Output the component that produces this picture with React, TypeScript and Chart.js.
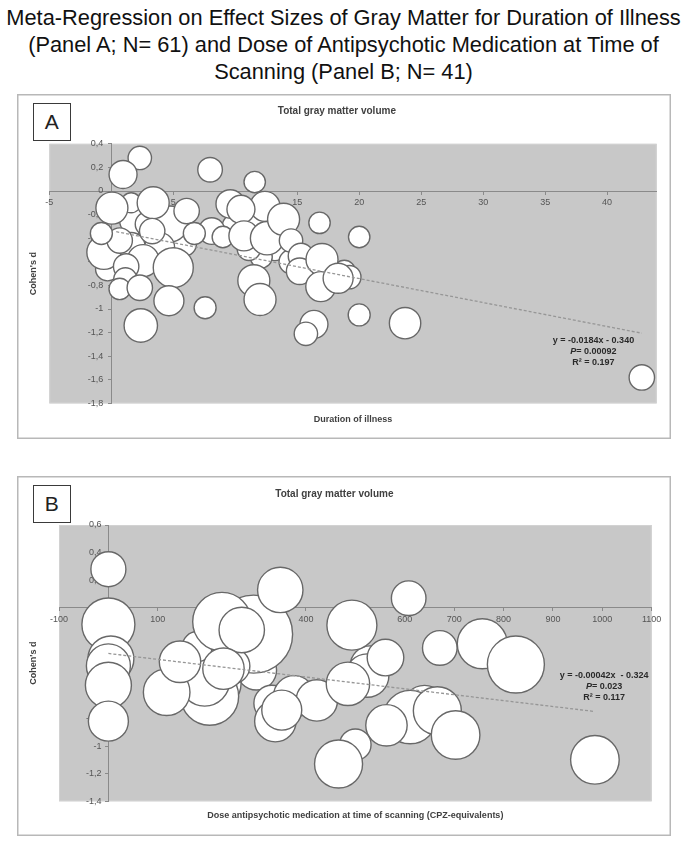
import React, { useEffect, useRef } from "react";
import { Chart, registerables } from "chart.js";

Chart.register(...registerables);

const FONT = '"Liberation Sans", Arial, Helvetica, sans-serif';

const pageTitleLines = [
  "Meta-Regression on Effect Sizes of Gray Matter for Duration of Illness",
  "(Panel A; N= 61) and Dose of Antipsychotic Medication at Time of",
  "Scanning (Panel B; N= 41)",
];

// ---------- Panel A: duration of illness ----------
const illnessYears = [
  1.8, 2.9, 1.6, -0.3, 10.0, 11.6, 13.2, 14.5, 12.1, 16.0, 18.8, 5.9,
  1.6, 4.73, 3.9, 8.1, 12.4, 11.1, 19.2, -0.6,
  2.3, 0.95, 7.97, 11.57, 0.05, 3.38, 6.08, 3.3, 0.68, -0.8, 2.57, 1.2,
  1.14, 0.68, 2.3, 5.0, 4.65, 2.38, 7.57, 6.7, 9.0, 9.6, 10.46, 10.7,
  12.57, 13.9, 14.5, 15.3, 15.2, 17.0, 16.9, 18.3, 16.8, 20.0, 20.0,
  16.35, 15.7, 11.5, 12.0, 23.7, 42.8,
];
const illnessEffect = [
  -0.25, -0.28, -0.47, -0.66, -0.3, -0.26, -0.48, -0.6, -0.56, -0.62, -0.68, -0.45,
  -0.1, -0.28, -0.48, -0.34, -0.13, -0.49, -0.73, -0.52,
  0.28, 0.14, 0.18, 0.076, -0.145, -0.1, -0.17, -0.34, -0.42, -0.36, -0.59, -0.64,
  -0.75, -0.83, -0.82, -0.65, -0.93, -1.14, -0.99, -0.36, -0.39, -0.11, -0.155, -0.38,
  -0.4, -0.24, -0.42, -0.55, -0.68, -0.58, -0.81, -0.74, -0.27, -0.39, -1.05,
  -1.13, -1.21, -0.76, -0.92, -1.12, -1.58,
];
const illnessWeight = [
  14, 12, 14, 12, 13, 13, 13, 12, 11, 13, 11, 12,
  10, 18, 15, 13.3, 15, 11.7, 11.7, 17,
  11.7, 14, 12.3, 10.7, 16, 16, 12.7, 12.7, 12.7, 11, 16, 12.7,
  11.7, 10.7, 12.7, 20, 15, 16.7, 11, 11, 10.7, 14.3, 14, 15,
  16.7, 16, 11.7, 12.7, 13.3, 16, 15, 15, 10.7, 10.7, 11,
  14, 11.7, 16, 16, 15.7, 12.7,
];
const illnessTrendX = [0.4, 42.8];
const illnessTrendY = [-0.345, -1.205];
const illnessXTicks = [-5, 0, 5, 10, 15, 20, 25, 30, 35, 40];
const illnessXTickLabels = ["-5", "0", "5", "10", "15", "20", "25", "30", "35", "40"];
const illnessYTicks = [0.4, 0.2, 0, -0.2, -0.4, -0.6, -0.8, -1, -1.2, -1.4, -1.6, -1.8];
const illnessYTickLabels = ["0,4", "0,2", "0", "-0,2", "-0,4", "-0,6", "-0,8", "-1", "-1,2", "-1,4", "-1,6", "-1,8"];
const illnessRegression = ["y = -0.0184x - 0.340", "P= 0.00092", "R\u00b2 = 0.197"];

// ---------- Panel B: antipsychotic dose ----------
const doseCPZ = [
  300, 530, 640, 220,
  294, 205, 195, 180, 250, 331, 524,
  0, 0, 5, 0, 0, 0, 118, 145, 230, 270, 233, 348,
  338, 376, 422, 351, 493, 561, 485, 608, 671, 757, 611, 563, 666, 703, 500, 466, 825, 985,
];
const doseEffect = [
  -0.45, -0.42, -0.72, -0.55,
  -0.19, -0.64, -0.53, -0.28, -0.42, -0.69, -0.49,
  0.28, -0.12, -0.37, -0.42, -0.56, -0.82, -0.61, -0.39, -0.1, -0.16, -0.44, 0.13,
  -0.82, -0.64, -0.67, -0.74, -0.125, -0.36, -0.55, 0.07, -0.29, -0.26, -0.79, -0.85, -0.745, -0.92, -0.99, -1.13, -0.41, -1.1,
];
const doseWeight = [
  20, 20, 22, 24,
  39, 29, 25, 15, 18, 18, 21.7,
  17.5, 26.5, 23, 22, 23, 20, 23.3, 20.7, 29.3, 22.7, 20.7, 22.7,
  20.7, 20.7, 20.7, 20, 25, 18.3, 21.7, 17.3, 17.3, 25, 26.7, 20.7, 24, 24.3, 15.7, 24, 28.5, 24.3,
];
const doseTrendX = [0, 985];
const doseTrendY = [-0.33, -0.75];
const doseXTicks = [-100, 0, 100, 200, 300, 400, 500, 600, 700, 800, 900, 1000, 1100];
const doseXTickLabels = ["-100", "0", "100", "200", "300", "400", "500", "600", "700", "800", "900", "1000", "1100"];
const doseYTicks = [0.6, 0.4, 0.2, 0, -0.2, -0.4, -0.6, -0.8, -1, -1.2, -1.4];
const doseYTickLabels = ["0,6", "0,4", "0,2", "0", "-0,2", "-0,4", "-0,6", "-0,8", "-1", "-1,2", "-1,4"];
const doseRegression = ["y = -0.00042x  - 0.324", "P= 0.023", "R\u00b2 = 0.117"];

type PanelCfg = {
  left: number; top: number; w: number; h: number;
  letter: string; letterTop: number;
  chartTitle: string; xTitle: string; yTitle: string;
  xs: number[]; ys: number[]; rs: number[];
  trendX: number[]; trendY: number[];
  xMin: number; xMax: number; yMin: number; yMax: number;
  xTicks: number[]; xTickLabels: string[]; yTicks: number[]; yTickLabels: string[];
  yLabelAt: number;
  regression: string[]; regAnchor: { x: number; y: number };
  pad: { right: number; titleTop: number; titleBottom: number; yTitleTop: number; yTitleBottom: number; xTitleTop: number; xTitleBottom: number };
};

const lookup = (vals: number[], labels: string[]) => (v: any) => {
  const i = vals.findIndex((t) => Math.abs(t - Number(v)) < 1e-6);
  return i >= 0 ? labels[i] : "";
};

function buildConfig(c: PanelCfg): any {
  const axisColor = "#8a8a8a";
  const tickColor = "#555555";
  const panelPlugin = {
    id: "panelBg",
    beforeDraw(chart: any) {
      const { ctx, chartArea, width, height } = chart;
      ctx.save();
      ctx.fillStyle = "#ffffff";
      ctx.fillRect(0, 0, width, height);
      ctx.strokeStyle = "#b8b8b8";
      ctx.lineWidth = 1.5;
      ctx.strokeRect(0.75, 0.75, width - 1.5, height - 1.5);
      ctx.fillStyle = "#c8c8c8";
      ctx.fillRect(chartArea.left, chartArea.top, chartArea.right - chartArea.left, chartArea.bottom - chartArea.top);
      ctx.strokeStyle = "#d2d2d2";
      ctx.lineWidth = 1;
      ctx.strokeRect(chartArea.left + 0.5, chartArea.top + 0.5, chartArea.right - chartArea.left - 1, chartArea.bottom - chartArea.top - 1);
      ctx.restore();
    },
  };
  const regPlugin = {
    id: "regText",
    afterDatasetsDraw(chart: any) {
      const { ctx, scales } = chart;
      const px = scales.x.getPixelForValue(c.regAnchor.x);
      const py = scales.y.getPixelForValue(c.regAnchor.y);
      ctx.save();
      ctx.fillStyle = "#2a2a2a";
      ctx.textBaseline = "middle";
      const bold = `bold 9px ${FONT}`;
      const ital = `italic bold 9px ${FONT}`;
      c.regression.forEach((line, i) => {
        const y = py + i * 10.8;
        if (line.startsWith("P")) {
          ctx.font = ital;
          const w1 = ctx.measureText("P").width;
          ctx.font = bold;
          const rest = line.slice(1);
          const w2 = ctx.measureText(rest).width;
          const x0 = px - (w1 + w2) / 2;
          ctx.textAlign = "left";
          ctx.font = ital;
          ctx.fillText("P", x0, y);
          ctx.font = bold;
          ctx.fillText(rest, x0 + w1, y);
        } else {
          ctx.font = bold;
          ctx.textAlign = "center";
          ctx.fillText(line, px, y);
        }
      });
      ctx.restore();
    },
  };

  const bubbleData = c.xs.map((x, i) => ({ x, y: c.ys[i], r: c.rs[i] }));
  const trendData = c.trendX.map((x, i) => ({ x, y: c.trendY[i] }));
  const yTickBuilder = (axis: any) => {
    axis.ticks = c.yTicks.slice().reverse().map((v) => ({ value: v }));
  };

  return {
    type: "bubble",
    data: {
      datasets: [
        {
          type: "line",
          data: trendData,
          xAxisID: "x",
          yAxisID: "y",
          borderColor: "#969696",
          borderWidth: 1.3,
          borderDash: [3, 2],
          pointRadius: 0,
          fill: false,
          tension: 0,
          order: 0,
        },
        {
          type: "bubble",
          data: bubbleData,
          xAxisID: "x",
          yAxisID: "y",
          backgroundColor: "#ffffff",
          borderColor: "#686868",
          borderWidth: 1.4,
          hoverRadius: 0,
          order: 1,
        },
      ],
    },
    options: {
      responsive: false,
      animation: false,
      devicePixelRatio: 1,
      layout: { autoPadding: false, padding: { left: 0, right: c.pad.right, top: 0, bottom: 0 } },
      plugins: {
        legend: { display: false },
        tooltip: { enabled: false },
        title: {
          display: true,
          text: c.chartTitle,
          color: "#404040",
          font: { family: FONT, size: 10, weight: "bold" },
          padding: { top: c.pad.titleTop, bottom: c.pad.titleBottom },
        },
      },
      scales: {
        x: {
          type: "linear",
          axis: "x",
          position: { y: 0 },
          min: c.xMin,
          max: c.xMax,
          afterBuildTicks: (axis: any) => {
            axis.ticks = c.xTicks.map((v) => ({ value: v }));
          },
          ticks: {
            callback: lookup(c.xTicks, c.xTickLabels),
            color: tickColor,
            font: { family: FONT, size: 9 },
            padding: 3,
            maxRotation: 0,
            autoSkip: false,
          },
          grid: { drawOnChartArea: false, drawTicks: true, tickLength: 3, color: axisColor },
          border: { display: true, color: axisColor, width: 1 },
        },
        y: {
          type: "linear",
          axis: "y",
          position: { x: 0 },
          min: c.yMin,
          max: c.yMax,
          afterBuildTicks: yTickBuilder,
          ticks: { display: false },
          grid: { drawOnChartArea: false, drawTicks: true, tickLength: 3, color: axisColor },
          border: { display: true, color: axisColor, width: 1 },
        },
        yl: {
          type: "linear",
          axis: "y",
          position: { x: c.yLabelAt },
          min: c.yMin,
          max: c.yMax,
          afterBuildTicks: yTickBuilder,
          ticks: {
            callback: lookup(c.yTicks, c.yTickLabels),
            color: tickColor,
            font: { family: FONT, size: 9 },
            padding: 0,
            autoSkip: false,
          },
          grid: { display: false, drawTicks: false },
          border: { display: false },
        },
        xt: {
          type: "linear",
          axis: "x",
          position: "bottom",
          min: 0,
          max: 1,
          ticks: { display: false },
          grid: { display: false, drawTicks: false },
          border: { display: false },
          title: {
            display: true,
            text: c.xTitle,
            color: "#404040",
            font: { family: FONT, size: 9, weight: "bold" },
            padding: { top: c.pad.xTitleTop, bottom: c.pad.xTitleBottom },
          },
        },
        yt: {
          type: "linear",
          axis: "y",
          position: "left",
          min: 0,
          max: 1,
          ticks: { display: false },
          grid: { display: false, drawTicks: false },
          border: { display: false },
          title: {
            display: true,
            text: c.yTitle,
            color: "#404040",
            font: { family: FONT, size: 9, weight: "bold" },
            padding: { top: c.pad.yTitleTop, bottom: c.pad.yTitleBottom },
          },
        },
      },
    },
    plugins: [panelPlugin, regPlugin],
  };
}

const panelA: PanelCfg = {
  left: 17, top: 94, w: 654, h: 345,
  letter: "A", letterTop: 8.7,
  chartTitle: "Total gray matter volume",
  xTitle: "Duration of illness",
  yTitle: "Cohen's d",
  xs: illnessYears, ys: illnessEffect, rs: illnessWeight,
  trendX: illnessTrendX, trendY: illnessTrendY,
  xMin: -5, xMax: 44, yMin: -1.8, yMax: 0.4,
  xTicks: illnessXTicks, xTickLabels: illnessXTickLabels,
  yTicks: illnessYTicks, yTickLabels: illnessYTickLabels,
  yLabelAt: -0.65,
  regression: illnessRegression, regAnchor: { x: 38.9, y: -1.27 },
  pad: { right: 14.3, titleTop: 11.7, titleBottom: 26.1, yTitleTop: 11.6, yTitleBottom: 9.9, xTitleTop: 10.5, xTitleBottom: 14.3 },
};

const panelB: PanelCfg = {
  left: 17, top: 476, w: 654, h: 360,
  letter: "B", letterTop: 9,
  chartTitle: "Total gray matter volume",
  xTitle: "Dose antipsychotic medication at time of scanning (CPZ-equivalents)",
  yTitle: "Cohen's d",
  xs: doseCPZ, ys: doseEffect, rs: doseWeight,
  trendX: doseTrendX, trendY: doseTrendY,
  xMin: -100, xMax: 1100, yMin: -1.4, yMax: 0.6,
  xTicks: doseXTicks, xTickLabels: doseXTickLabels,
  yTicks: doseYTicks, yTickLabels: doseYTickLabels,
  yLabelAt: -14,
  regression: doseRegression, regAnchor: { x: 1003.6, y: -0.49 },
  pad: { right: 19.3, titleTop: 12, titleBottom: 25, yTitleTop: 11.6, yTitleBottom: 19.6, xTitleTop: 9.0, xTitleBottom: 14.9 },
};

function BubblePanel({ cfg }: { cfg: PanelCfg }) {
  const ref = useRef<HTMLCanvasElement | null>(null);
  useEffect(() => {
    if (!ref.current) return;
    const chart = new Chart(ref.current, buildConfig(cfg));
    return () => chart.destroy();
  }, [cfg]);
  return (
    <>
      <canvas
        ref={ref}
        width={cfg.w}
        height={cfg.h}
        style={{ position: "absolute", left: cfg.left, top: cfg.top, width: cfg.w, height: cfg.h }}
      />
      <div
        style={{
          position: "absolute",
          left: cfg.left + 15.7,
          top: cfg.top + cfg.letterTop,
          width: 38.3,
          height: 38,
          boxSizing: "border-box",
          border: "1px solid #3a3a3a",
          background: "#ffffff",
          fontFamily: FONT,
          fontSize: 21,
          color: "#222222",
          display: "flex",
          alignItems: "center",
          justifyContent: "center",
        }}
      >
        {cfg.letter}
      </div>
    </>
  );
}

export default function App() {
  return (
    <div style={{ position: "absolute", left: 0, top: 0, width: 687, height: 842, background: "#ffffff", overflow: "hidden" }}>
      <div
        style={{
          position: "absolute",
          left: 0,
          top: 5,
          width: 687,
          textAlign: "center",
          fontFamily: FONT,
          fontSize: 21.8,
          lineHeight: "26.8px",
          color: "#111111",
          whiteSpace: "nowrap",
        }}
      >
        {pageTitleLines.map((l, i) => (
          <div key={i}>{l}</div>
        ))}
      </div>
      <BubblePanel cfg={panelA} />
      <BubblePanel cfg={panelB} />
    </div>
  );
}
